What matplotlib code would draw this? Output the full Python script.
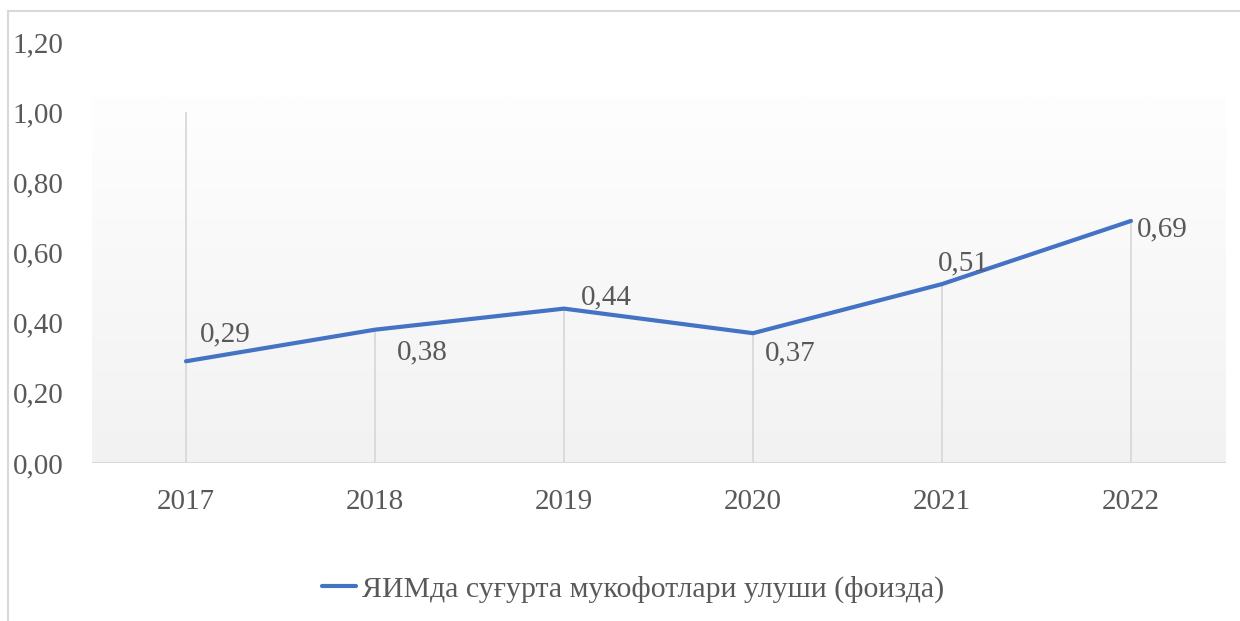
import numpy as np
import matplotlib
matplotlib.use("Agg")
import matplotlib.pyplot as plt
from matplotlib.lines import Line2D
from matplotlib.colors import LinearSegmentedColormap

years = ["2017", "2018", "2019", "2020", "2021", "2022"]
values = [0.29, 0.38, 0.44, 0.37, 0.51, 0.69]
value_labels = ["0,29", "0,38", "0,44", "0,37", "0,51", "0,69"]
yticks = [0.0, 0.2, 0.4, 0.6, 0.8, 1.0, 1.2]
ytick_labels = ["0,00", "0,20", "0,40", "0,60", "0,80", "1,00", "1,20"]
series_name = "ЯИМда суғурта мукофотлари улуши (фоизда)"

# label offsets in pixels (dx, dy) relative to each point
label_offsets = [(39, 27), (47, -23), (42, 11), (37, -20), (21, 21), (31, -8)]

W, H = 1240, 621
fig = plt.figure(figsize=(W / 100, H / 100), dpi=100)
fig.patch.set_facecolor("white")

left, right, bottom, top = 91.5, 1225.5, 463, 42
ax = fig.add_axes([left / W, 1 - bottom / H, (right - left) / W, (bottom - top) / H])
ax.set_facecolor("none")
ax.set_xlim(-0.5, 5.5)
ax.set_ylim(0, 1.2)

x = np.arange(len(years))
text_color = "#595959"
font = "Liberation Serif"
fs = 21
fs_leg = 21.5

# gradient plot-area fill
grad_top = 1.043
grad = np.linspace(0, 1, 256).reshape(-1, 1)
cmap = LinearSegmentedColormap.from_list("g", ["#f2f2f2", "#fefefe"])
ax.imshow(grad, extent=(-0.5, 5.5, 0, grad_top), origin="lower", aspect="auto",
          cmap=cmap, zorder=0, interpolation="bilinear")

# drop lines
ax.vlines(x[0], 0, 1.0, color="#d9d9d9", lw=1.3, zorder=1)
ax.vlines(x[1:], 0, values[1:], color="#d9d9d9", lw=1.3, zorder=1)
ax.axhline(0, color="#d9d9d9", lw=1.5, zorder=1)

ax.plot(x, values, color="#4472C4", lw=3.0, solid_capstyle="round", zorder=3)

for xi, v, lab, (dx, dy) in zip(x, values, value_labels, label_offsets):
    ax.annotate(lab, (xi, v), xytext=(dx, dy), textcoords="offset pixels",
                ha="center", va="center", fontsize=fs, color=text_color,
                family=font, zorder=4)

for s in ax.spines.values():
    s.set_visible(False)
ax.set_xticks(x)
ax.set_xticklabels(years, family=font, fontsize=fs, color=text_color)
ax.set_yticks(yticks)
ax.set_yticklabels(ytick_labels, family=font, fontsize=fs, color=text_color)
ax.tick_params(axis="x", length=0, pad=19)
ax.tick_params(axis="y", length=0, pad=20)

# chart border (top and left visible)
fig.add_artist(Line2D([8 / W, 8 / W], [0, 1 - 11 / H], color="#d9d9d9", lw=1.5,
                      transform=fig.transFigure))
fig.add_artist(Line2D([8 / W, 1], [1 - 11 / H, 1 - 11 / H], color="#d9d9d9", lw=1.5,
                      transform=fig.transFigure))

handle = Line2D([], [], color="#4472C4", lw=3.0, solid_capstyle="round")
leg = fig.legend([handle], [series_name], loc="center",
                 bbox_to_anchor=(633 / W, 1 - 589 / H), frameon=False,
                 prop={"family": font, "size": fs_leg}, handlelength=1.15,
                 handletextpad=0.2, labelcolor=text_color)

fig.savefig("out.png", dpi=100)
